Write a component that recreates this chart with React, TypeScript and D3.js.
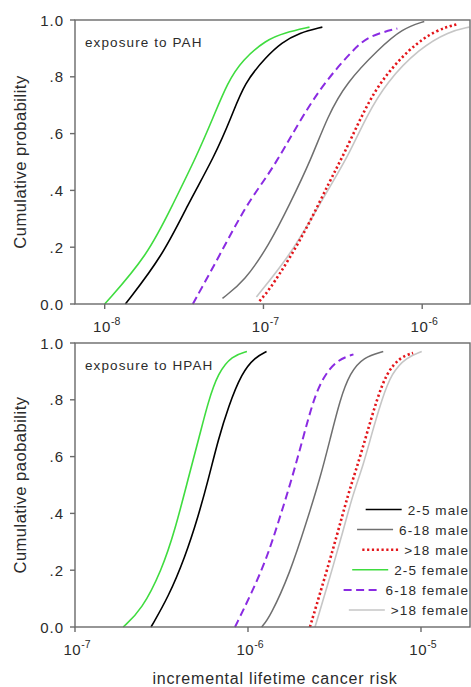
import React, { useEffect, useRef } from 'react';
import * as d3 from 'd3';

const W = 471;
const H = 687;
const FONT = 'Arial, "Liberation Sans", sans-serif';

// legend order
const seriesNames = ['2-5 male', '6-18 male', '>18 male', '2-5 female', '6-18 female', '>18 female'];
const seriesColors = ['#000000', '#6f6f6f', '#e3161b', '#3fdc3f', '#8a2be2', '#c6c6c6'];
const seriesDash = [null, null, '2.2,2.6', null, '8,4.5', null];
const seriesWidth = [1.6, 1.5, 2.6, 1.6, 2, 1.6];

// [risk, cumulative probability]
const pahMale25 = [[1.35e-8, 0], [2.32e-8, 0.17], [3.33e-8, 0.35], [4.92e-8, 0.52], [6.3e-8, 0.66], [7.6e-8, 0.78], [1.04e-7, 0.87], [1.3e-7, 0.92], [1.68e-7, 0.955], [2.35e-7, 0.975]];
const pahMale618 = [[5.52e-8, 0.02], [7.6e-8, 0.08], [1.09e-7, 0.21], [1.46e-7, 0.35], [2.0e-7, 0.51], [2.53e-7, 0.66], [3.33e-7, 0.78], [5.37e-7, 0.9], [7.5e-7, 0.97], [1.03e-6, 0.995]];
const pahMale18 = [[9.44e-8, 0.01], [1.09e-7, 0.05], [1.46e-7, 0.16], [1.95e-7, 0.285], [2.6e-7, 0.43], [3.23e-7, 0.53], [4.13e-7, 0.66], [5.37e-7, 0.78], [8.28e-7, 0.9], [1.22e-6, 0.965], [1.66e-6, 0.985]];
const pahFemale25 = [[1.0e-8, 0], [1.86e-8, 0.17], [2.68e-8, 0.35], [3.79e-8, 0.52], [4.85e-8, 0.66], [5.94e-8, 0.78], [7.38e-8, 0.86], [1.04e-7, 0.93], [1.36e-7, 0.955], [1.95e-7, 0.975]];
const pahFemale618 = [[3.59e-8, 0], [5.28e-8, 0.17], [7.81e-8, 0.35], [1.06e-7, 0.45], [1.36e-7, 0.55], [1.76e-7, 0.66], [2.42e-7, 0.78], [3.73e-7, 0.9], [4.65e-7, 0.945], [6.97e-7, 0.97]];
const pahFemale18 = [[9.03e-8, 0.025], [1.46e-7, 0.17], [2.0e-7, 0.3], [2.8e-7, 0.44], [3.47e-7, 0.53], [4.45e-7, 0.66], [5.94e-7, 0.78], [9.58e-7, 0.9], [1.48e-6, 0.96], [1.98e-6, 0.975]];

// [risk, cumulative probability]
const hpahMale25 = [[2.75e-7, 0], [3.46e-7, 0.105], [4.32e-7, 0.245], [5.16e-7, 0.39], [5.9e-7, 0.52], [6.73e-7, 0.66], [7.69e-7, 0.775], [9.2e-7, 0.895], [1.1e-6, 0.95], [1.28e-6, 0.97]];
const hpahMale618 = [[1.2e-6, 0], [1.34e-6, 0.035], [1.75e-6, 0.19], [2.18e-6, 0.37], [2.6e-6, 0.52], [2.98e-6, 0.66], [3.4e-6, 0.8], [3.89e-6, 0.895], [4.64e-6, 0.95], [6.05e-6, 0.97]];
const hpahMale18 = [[2.28e-6, 0], [2.72e-6, 0.155], [3.26e-6, 0.32], [3.8e-6, 0.47], [4.25e-6, 0.56], [4.86e-6, 0.68], [5.55e-6, 0.8], [6.33e-6, 0.895], [7.57e-6, 0.95], [9.0e-6, 0.965]];
const hpahFemale25 = [[1.9e-7, 0], [2.43e-7, 0.06], [3.17e-7, 0.2], [3.78e-7, 0.34], [4.5e-7, 0.52], [5.28e-7, 0.68], [5.87e-7, 0.79], [6.71e-7, 0.895], [8.09e-7, 0.955], [9.86e-7, 0.97]];
const hpahFemale618 = [[8.41e-7, 0], [1.05e-6, 0.12], [1.28e-6, 0.24], [1.5e-6, 0.37], [1.79e-6, 0.52], [2.09e-6, 0.67], [2.39e-6, 0.8], [2.72e-6, 0.88], [3.26e-6, 0.94], [4.07e-6, 0.96]];
const hpahFemale18 = [[2.44e-6, 0], [2.91e-6, 0.155], [3.48e-6, 0.32], [4.05e-6, 0.47], [4.64e-6, 0.57], [5.19e-6, 0.68], [5.93e-6, 0.8], [6.77e-6, 0.895], [8.26e-6, 0.95], [1.01e-5, 0.97]];

const yTicks = [0, 0.2, 0.4, 0.6, 0.8, 1.0];
const pahXTicks = [1e-8, 1e-7, 1e-6];
const hpahXTicks = [1e-7, 1e-6, 1e-5];

const panels = [
  {
    label: 'exposure to PAH',
    yTitle: 'Cumulative probability',
    domain: [6.5e-9, 2e-6],
    xTicks: pahXTicks,
    top: 20,
    bottom: 304,
    series: [pahMale25, pahMale618, pahMale18, pahFemale25, pahFemale618, pahFemale18],
    legend: false,
  },
  {
    label: 'exposure to HPAH',
    yTitle: 'Cumulative paobability',
    domain: [1e-7, 1.92e-5],
    xTicks: hpahXTicks,
    top: 343,
    bottom: 627,
    series: [hpahMale25, hpahMale618, hpahMale18, hpahFemale25, hpahFemale618, hpahFemale18],
    legend: true,
  },
];

const LEFT = 75;
const RIGHT = 470;
const axisColor = '#6a6a6a';
const textColor = '#2b2b2b';

function styleLine(sel, i) {
  sel
    .attr('fill', 'none')
    .attr('stroke', seriesColors[i])
    .attr('stroke-width', seriesWidth[i])
    .attr('stroke-dasharray', seriesDash[i]);
}

function drawPanel(svg, p) {
  const x = d3.scaleLog().domain(p.domain).range([LEFT, RIGHT]);
  const y = d3.scaleLinear().domain([0, 1]).range([p.bottom, p.top]);
  const g = svg.append('g');

  // smooth curves through the read points
  const line = d3.line()
    .x(d => x(d[0]))
    .y(d => y(d[1]))
    .curve(d3.curveBasis);
  const order = [5, 4, 3, 2, 1, 0];
  order.forEach(i => {
    g.append('path').attr('d', line(p.series[i])).call(styleLine, i);
  });

  // frame
  g.append('rect')
    .attr('x', LEFT).attr('y', p.top)
    .attr('width', RIGHT - LEFT).attr('height', p.bottom - p.top)
    .attr('fill', 'none').attr('stroke', axisColor).attr('stroke-width', 1.4);

  // y ticks
  yTicks.forEach(t => {
    g.append('line')
      .attr('x1', LEFT - 5).attr('x2', LEFT)
      .attr('y1', y(t)).attr('y2', y(t))
      .attr('stroke', axisColor).attr('stroke-width', 1.4);
    g.append('text')
      .attr('x', 64).attr('y', y(t) + 5.5)
      .attr('text-anchor', 'end')
      .attr('font-size', 15).attr('letter-spacing', 1)
      .attr('fill', textColor)
      .text(t === 0 ? '0.0' : t === 1 ? '1.0' : d3.format('.1f')(t).slice(1));
  });

  // x ticks
  p.xTicks.forEach(t => {
    g.append('line')
      .attr('x1', x(t)).attr('x2', x(t))
      .attr('y1', p.bottom).attr('y2', p.bottom + 5)
      .attr('stroke', axisColor).attr('stroke-width', 1.4);
    const txt = g.append('text')
      .attr('x', x(t) + 2).attr('y', p.bottom + 28)
      .attr('text-anchor', 'middle')
      .attr('fill', textColor);
    txt.append('tspan').attr('font-size', 15).attr('letter-spacing', 0.6).text('10');
    txt.append('tspan').attr('font-size', 10.5).attr('dy', -7).text(String(Math.round(Math.log10(t))));
  });

  // panel label
  g.append('text')
    .attr('x', 85).attr('y', p.top + 27)
    .attr('font-size', 13.5).attr('letter-spacing', 1.1)
    .attr('fill', textColor)
    .text(p.label);

  // y title
  g.append('text')
    .attr('transform', `translate(26,${(p.top + p.bottom) / 2}) rotate(-90)`)
    .attr('text-anchor', 'middle')
    .attr('font-size', 16.5).attr('letter-spacing', 0.5)
    .attr('fill', textColor)
    .text(p.yTitle);

  if (p.legend) {
    const rowY = d3.scaleLinear().domain([0, 5]).range([509.5, 610]);
    seriesNames.forEach((name, i) => {
      const t = g.append('text')
        .attr('x', 469).attr('y', rowY(i) + 5)
        .attr('text-anchor', 'end')
        .attr('font-size', 13.5).attr('letter-spacing', 1.1)
        .attr('fill', textColor)
        .text(name);
      const w = t.node().getComputedTextLength();
      const x2 = 469 - w - 6;
      g.append('line')
        .attr('x1', x2 - 36).attr('x2', x2)
        .attr('y1', rowY(i)).attr('y2', rowY(i))
        .call(styleLine, i);
    });
  }
}

export default function App() {
  const ref = useRef(null);

  useEffect(() => {
    const svg = d3.select(ref.current);
    svg.selectAll('*').remove();
    svg.append('rect').attr('width', W).attr('height', H).attr('fill', '#fff');
    panels.forEach(p => drawPanel(svg, p));

    svg.append('text')
      .attr('x', 275).attr('y', 684)
      .attr('text-anchor', 'middle')
      .attr('font-size', 16).attr('letter-spacing', 0.8)
      .attr('fill', textColor)
      .text('incremental lifetime cancer risk');
  }, []);

  return (
    <svg
      ref={ref}
      width={W}
      height={H}
      style={{ position: 'absolute', left: 0, top: 0, fontFamily: FONT }}
    />
  );
}
